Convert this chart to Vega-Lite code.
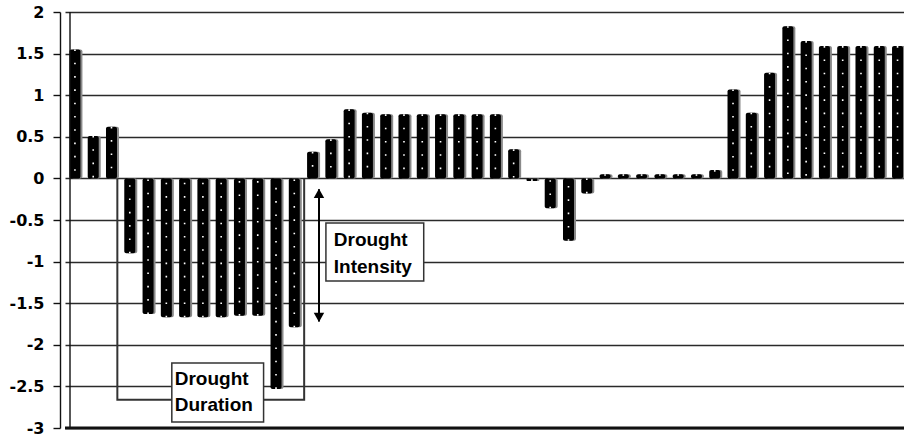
{
  "$schema": "https://vega.github.io/schema/vega-lite/v6.json",
  "width": 839,
  "height": 416,
  "autosize": {"type": "none"},
  "padding": {"left": 65, "top": 12, "right": 0, "bottom": 10},
  "background": "white",
  "config": {"view": {"stroke": null}},
  "datasets": {
    "bars": [
      {"period": 1, "value": 1.55}, {"period": 2, "value": 0.51}, {"period": 3, "value": 0.62},
      {"period": 4, "value": -0.9}, {"period": 5, "value": -1.63}, {"period": 6, "value": -1.67},
      {"period": 7, "value": -1.67}, {"period": 8, "value": -1.67}, {"period": 9, "value": -1.67},
      {"period": 10, "value": -1.65}, {"period": 11, "value": -1.65}, {"period": 12, "value": -2.53},
      {"period": 13, "value": -1.79}, {"period": 14, "value": 0.32}, {"period": 15, "value": 0.47},
      {"period": 16, "value": 0.83}, {"period": 17, "value": 0.79}, {"period": 18, "value": 0.77},
      {"period": 19, "value": 0.77}, {"period": 20, "value": 0.77}, {"period": 21, "value": 0.77},
      {"period": 22, "value": 0.77}, {"period": 23, "value": 0.77}, {"period": 24, "value": 0.77},
      {"period": 25, "value": 0.35}, {"period": 26, "value": -0.03}, {"period": 27, "value": -0.36},
      {"period": 28, "value": -0.75}, {"period": 29, "value": -0.18}, {"period": 30, "value": 0.05},
      {"period": 31, "value": 0.05}, {"period": 32, "value": 0.05}, {"period": 33, "value": 0.05},
      {"period": 34, "value": 0.05}, {"period": 35, "value": 0.05}, {"period": 36, "value": 0.1},
      {"period": 37, "value": 1.07}, {"period": 38, "value": 0.79}, {"period": 39, "value": 1.27},
      {"period": 40, "value": 1.83}, {"period": 41, "value": 1.65}, {"period": 42, "value": 1.59},
      {"period": 43, "value": 1.59}, {"period": 44, "value": 1.59}, {"period": 45, "value": 1.59},
      {"period": 46, "value": 1.59}
    ],
    "bracket": [
      {"x": 3.32, "y": 0, "o": 1}, {"x": 3.32, "y": -2.66, "o": 2},
      {"x": 13.54, "y": -2.66, "o": 3}, {"x": 13.54, "y": 0, "o": 4}
    ],
    "arrow": [{"x": 14.35, "y": -0.13, "y2": -1.72}],
    "heads": [
      {"x": 14.35, "y": -0.18, "shape": "triangle-up"},
      {"x": 14.35, "y": -1.67, "shape": "triangle-down"}
    ],
    "boxes": [
      {"x": 14.73, "x2": 20.08, "y": -0.536, "y2": -1.233},
      {"x": 6.3, "x2": 11.32, "y": -2.219, "y2": -2.928}
    ],
    "labels": [
      {"x": 15.16, "y": -0.74, "text": "Drought"},
      {"x": 15.16, "y": -1.07, "text": "Intensity"},
      {"x": 6.46, "y": -2.41, "text": "Drought"},
      {"x": 6.46, "y": -2.72, "text": "Duration"}
    ],
    "frame": [{"x": 0.73, "y": 2, "y2": -3}],
    "floor": [{"y": -3}]
  },
  "layer": [
    {
      "data": {"name": "bars"},
      "mark": {"type": "bar", "width": 11, "color": "#8a8a8a", "xOffset": 2, "cornerRadius": 2},
      "encoding": {
        "x": {"field": "period", "type": "quantitative", "scale": {"domain": [0.73, 46.08], "nice": false, "zero": false}, "axis": null},
        "y": {"field": "value", "type": "quantitative", "scale": {"domain": [-3, 2], "nice": false, "zero": false},
          "axis": {
            "title": null,
            "values": [-3, -2.5, -2, -1.5, -1, -0.5, 0, 0.5, 1, 1.5, 2],
            "labelExpr": "datum.value + ''",
            "offset": 5,
            "grid": true,
            "gridColor": "#2a2a2a",
            "gridWidth": 1.4,
            "gridOpacity": 1,
            "domainColor": "#111",
            "domainWidth": 1.4,
            "tickColor": "#111",
            "tickWidth": 1.4,
            "tickSize": 7,
            "labelPadding": 9,
            "labelFont": "DejaVu Sans",
            "labelFontWeight": "bold",
            "labelFontSize": 16,
            "labelColor": "#000"
          }
        },
        "y2": {"datum": 0}
      }
    },
    {
      "data": {"name": "bars"},
      "mark": {"type": "bar", "width": 11, "color": "#000", "cornerRadius": 2},
      "encoding": {
        "x": {"field": "period", "type": "quantitative", "scale": {"domain": [0.73, 46.08], "nice": false, "zero": false}, "axis": null},
        "y": {"field": "value", "type": "quantitative", "scale": {"domain": [-3, 2], "nice": false, "zero": false}},
        "y2": {"datum": 0}
      }
    },
    {
      "data": {"name": "bars"},
      "mark": {"type": "rule", "color": "#fff", "strokeWidth": 1.6, "strokeDash": [1.6, 11.7]},
      "encoding": {
        "x": {"field": "period", "type": "quantitative", "scale": {"domain": [0.73, 46.08], "nice": false, "zero": false}, "axis": null},
        "y": {"field": "value", "type": "quantitative", "scale": {"domain": [-3, 2], "nice": false, "zero": false}},
        "y2": {"datum": 0}
      }
    },
    {
      "data": {"name": "frame"},
      "mark": {"type": "rule", "color": "#111", "strokeWidth": 1.4},
      "encoding": {
        "x": {"field": "x", "type": "quantitative", "scale": {"domain": [0.73, 46.08], "nice": false, "zero": false}, "axis": null},
        "y": {"field": "y", "type": "quantitative", "scale": {"domain": [-3, 2], "nice": false, "zero": false}},
        "y2": {"field": "y2"}
      }
    },
    {
      "data": {"name": "floor"},
      "mark": {"type": "rule", "color": "#111", "strokeWidth": 3},
      "encoding": {
        "y": {"field": "y", "type": "quantitative", "scale": {"domain": [-3, 2], "nice": false, "zero": false}}
      }
    },
    {
      "data": {"name": "bracket"},
      "mark": {"type": "line", "color": "#333", "strokeWidth": 2},
      "encoding": {
        "x": {"field": "x", "type": "quantitative", "scale": {"domain": [0.73, 46.08], "nice": false, "zero": false}, "axis": null},
        "y": {"field": "y", "type": "quantitative", "scale": {"domain": [-3, 2], "nice": false, "zero": false}},
        "order": {"field": "o"}
      }
    },
    {
      "data": {"name": "arrow"},
      "mark": {"type": "rule", "color": "#000", "strokeWidth": 2},
      "encoding": {
        "x": {"field": "x", "type": "quantitative", "scale": {"domain": [0.73, 46.08], "nice": false, "zero": false}, "axis": null},
        "y": {"field": "y", "type": "quantitative", "scale": {"domain": [-3, 2], "nice": false, "zero": false}},
        "y2": {"field": "y2"}
      }
    },
    {
      "data": {"name": "heads"},
      "mark": {"type": "point", "filled": true, "color": "#000", "opacity": 1, "size": 110},
      "encoding": {
        "x": {"field": "x", "type": "quantitative", "scale": {"domain": [0.73, 46.08], "nice": false, "zero": false}, "axis": null},
        "y": {"field": "y", "type": "quantitative", "scale": {"domain": [-3, 2], "nice": false, "zero": false}},
        "shape": {"field": "shape", "type": "nominal", "scale": null, "legend": null}
      }
    },
    {
      "data": {"name": "boxes"},
      "mark": {"type": "rect", "fill": "#fff", "stroke": "#333", "strokeWidth": 1.5},
      "encoding": {
        "x": {"field": "x", "type": "quantitative", "scale": {"domain": [0.73, 46.08], "nice": false, "zero": false}, "axis": null},
        "x2": {"field": "x2"},
        "y": {"field": "y", "type": "quantitative", "scale": {"domain": [-3, 2], "nice": false, "zero": false}},
        "y2": {"field": "y2"}
      }
    },
    {
      "data": {"name": "labels"},
      "mark": {"type": "text", "align": "left", "baseline": "middle", "font": "Liberation Sans", "fontWeight": "bold", "fontSize": 19, "color": "#000"},
      "encoding": {
        "x": {"field": "x", "type": "quantitative", "scale": {"domain": [0.73, 46.08], "nice": false, "zero": false}, "axis": null},
        "y": {"field": "y", "type": "quantitative", "scale": {"domain": [-3, 2], "nice": false, "zero": false}},
        "text": {"field": "text"}
      }
    }
  ]
}
